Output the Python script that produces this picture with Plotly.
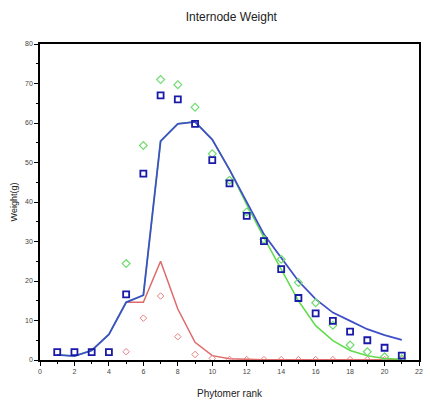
import plotly.graph_objects as go

rank = list(range(1, 22))

obs_total = [2, 2, 2, 2, 16.6, 47.2, 67, 66, 59.8, 50.6, 44.7, 36.5, 30.1, 23, 15.7, 11.8, 9.9, 7.2, 5, 3.1, 1.1]

obs_green_x = list(range(5, 22))
obs_green = [24.4, 54.3, 71, 69.7, 64, 52.2, 45.5, 37.5, 30.5, 25.5, 19.6, 14.5, 8.8, 3.8, 2.1, 0.8, 0.3]

obs_red_x = list(range(5, 22))
obs_red = [2.1, 10.6, 16.2, 5.9, 1.4, 0.4, 0.15, 0.1, 0.1, 0.1, 0.1, 0.1, 0.1, 0.1, 0.1, 0.1, 0.1]

sim_blue = [1.3, 1.0, 2.4, 6.5, 14.6, 16.4, 55.4, 59.8, 60.3, 55.8, 48.2, 39.8, 31.8, 25.9, 20, 15.4, 12, 9.9, 7.8, 6.3, 5.1]
sim_green = [1.3, 1.0, 2.4, 6.5, 14.6, 16.4, 55.4, 59.8, 60.3, 55.8, 48.2, 39.3, 31.0, 23, 15, 8.7, 4.9, 2.4, 1.1, 0.4, 0.2]

sim_red_x = list(range(5, 22))
sim_red = [14.6, 14.6, 25, 12.9, 4.5, 1.1, 0.3, 0.1, 0.05, 0.05, 0.05, 0.05, 0.05, 0.05, 0.05, 0.05, 0.05]

x_ticks = list(range(0, 23, 2))
y_ticks = list(range(0, 81, 10))

fig = go.Figure()
fig.add_trace(go.Scatter(x=sim_red_x, y=sim_red, mode="lines",
                         line=dict(color="#e06a6a", width=1.5)))
fig.add_trace(go.Scatter(x=rank, y=sim_green, mode="lines",
                         line=dict(color="#5fdc4a", width=1.5)))
fig.add_trace(go.Scatter(x=rank, y=sim_blue, mode="lines",
                         line=dict(color="#3f4fc8", width=1.8)))
fig.add_trace(go.Scatter(x=obs_red_x, y=obs_red, mode="markers",
                         marker=dict(symbol="diamond-open", size=5, color="#e88080",
                                     line=dict(width=1, color="#e88080"))))
fig.add_trace(go.Scatter(x=obs_green_x, y=obs_green, mode="markers",
                         marker=dict(symbol="diamond-open", size=6, color="#70dc70",
                                     line=dict(width=1.2, color="#70dc70"))))
fig.add_trace(go.Scatter(x=rank, y=obs_total, mode="markers",
                         marker=dict(symbol="square-open", size=6, color="#1a1aa8",
                                     line=dict(width=1.8, color="#1a1aa8"))))

axis_font = dict(family="Liberation Sans, Arial, sans-serif", size=7, color="#444")

fig.update_layout(
    width=430, height=405,
    margin=dict(l=40, r=7, t=44, b=44),
    paper_bgcolor="white", plot_bgcolor="white",
    showlegend=False,
    font=dict(family="Liberation Sans, Arial, sans-serif", color="#222"),
    title=dict(text="Internode Weight", x=0.538, xanchor="center", y=0.958, yanchor="middle",
               font=dict(size=12, color="#222")),
    xaxis=dict(range=[0, 22], tickvals=x_ticks, ticktext=[str(v) for v in x_ticks],
               showgrid=False, zeroline=False, showline=True, linecolor="black", linewidth=1.5,
               mirror=True, ticks="outside", ticklen=4, tickcolor="black", tickfont=axis_font,
               minor=dict(dtick=1, ticks="outside", ticklen=2, tickcolor="black"),
               title=dict(text="Phytomer rank", font=dict(size=10, color="#222"), standoff=16)),
    yaxis=dict(range=[0, 80], tickvals=y_ticks, ticktext=[str(v) for v in y_ticks],
               showgrid=False, zeroline=False, showline=True, linecolor="black", linewidth=1.5,
               mirror=True, ticks="outside", ticklen=4, tickcolor="black", tickfont=axis_font,
               minor=dict(dtick=5, ticks="outside", ticklen=2, tickcolor="black"),
               title=dict(text="Weight(g)", font=dict(size=9, color="#222"), standoff=6)),
)

fig.write_html("out.html")
